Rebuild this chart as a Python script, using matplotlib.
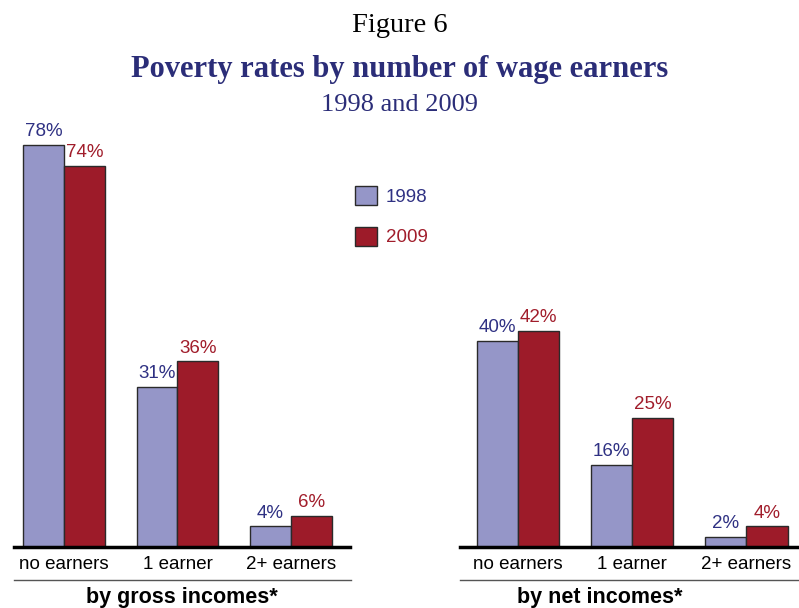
import numpy as np
import matplotlib.pyplot as plt
from matplotlib.lines import Line2D
from matplotlib.patches import Patch

categories = ['no earners', '1 earner', '2+ earners']
gross_1998 = [78, 31, 4]
gross_2009 = [74, 36, 6]
net_1998 = [40, 16, 2]
net_2009 = [42, 25, 4]
years = ['1998', '2009']

c98 = '#9596c8'
c09 = '#9d1b29'
t98 = '#2f3183'
t09 = '#a11d2b'
navy = '#2b2d78'

plt.rcParams['font.family'] = ['Liberation Sans', 'DejaVu Sans']

fig = plt.figure(figsize=(7.99, 6.08), dpi=100)
W, H = 799, 608


def px_axes(x0, x1, ybase, ytop):
    return fig.add_axes([x0 / W, 1 - ybase / H, (x1 - x0) / W, (ybase - ytop) / H])


def draw_panel(ax, v98, v09, xlim):
    x = np.arange(len(categories))
    w = 0.36
    b1 = ax.bar(x - w / 2, v98, w, color=c98, edgecolor='#2a2a2a', linewidth=1)
    b2 = ax.bar(x + w / 2, v09, w, color=c09, edgecolor='#2a2a2a', linewidth=1)
    for bars, vals, col in [(b1, v98, t98), (b2, v09, t09)]:
        for r, v in zip(bars, vals):
            ax.annotate(f'{v}%', (r.get_x() + r.get_width() / 2, v),
                        xytext=(0, 3.5), textcoords='offset points',
                        ha='center', va='bottom', fontsize=13.5, color=col)
    ax.set_xlim(*xlim)
    ax.set_ylim(0, 85)
    ax.set_xticks(x)
    ax.set_xticklabels(categories, fontsize=13.5)
    ax.tick_params(axis='x', length=0, pad=6.5)
    ax.set_yticks([])
    for s in ['top', 'right', 'left']:
        ax.spines[s].set_visible(False)
    ax.spines['bottom'].set_linewidth(2.5)
    ax.patch.set_alpha(0)


ax1 = px_axes(14, 350, 547, 109)
draw_panel(ax1, gross_1998, gross_2009, (-0.44, 2.52))
ax2 = px_axes(460, 799, 547, 109)
draw_panel(ax2, net_1998, net_2009, (-0.51, 2.46))

# thin rules above the panel captions
for x0, x1 in [(14, 351), (460, 799)]:
    fig.add_artist(Line2D([x0 / W, x1 / W], [1 - 580 / H] * 2, color='#555555', lw=1))

fig.text(182 / W, 1 - 597 / H, 'by gross incomes*', ha='center', va='center',
         fontsize=15.5, fontweight='bold')
fig.text(600 / W, 1 - 598 / H, 'by net incomes*', ha='center', va='center',
         fontsize=15.5, fontweight='bold')

serif = ['Liberation Serif', 'DejaVu Serif']
fig.text(0.5, 1 - 26 / H, 'Figure 6', ha='center', va='center', fontsize=20.5, family=serif)
fig.text(0.5, 1 - 70 / H, 'Poverty rates by number of wage earners', ha='center', va='center',
         fontsize=22, fontweight='bold', family=serif, color=navy)
fig.text(0.5, 1 - 105 / H, '1998 and 2009', ha='center', va='center', fontsize=19,
         family=serif, color=navy)

handles = [Patch(facecolor=c98, edgecolor='#2a2a2a'), Patch(facecolor=c09, edgecolor='#2a2a2a')]
fig.legend(handles, years, loc='upper left', bbox_to_anchor=(355 / W, 1 - 186 / H),
           frameon=False, fontsize=13.5, handlelength=1.15, handleheight=1.2,
           handletextpad=0.5, labelspacing=1.1, borderpad=0, borderaxespad=0,
           labelcolor=[t98, t09])

fig.savefig('out.png', dpi=100)
